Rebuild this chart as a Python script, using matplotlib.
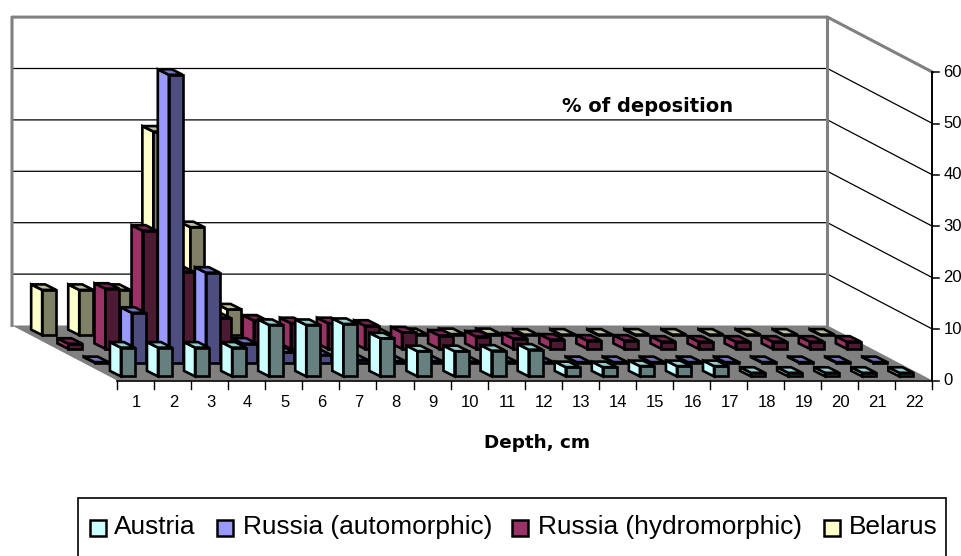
import matplotlib.pyplot as plt
from matplotlib.patches import Polygon, Rectangle

categories = [str(i) for i in range(1, 23)]
value_ticks = [0, 10, 20, 30, 40, 50, 60]
series_names = ["Austria", "Russia (automorphic)", "Russia (hydromorphic)", "Belarus"]

austria = [5.6, 5.6, 5.6, 5.6, 10, 10, 10.2, 7.4, 4.9, 4.9, 5, 5.2, 1.8, 1.8, 2, 2, 2, 0.7, 0.7, 0.7, 0.7, 0.7]
russia_auto = [0.1, 9.7, 56, 17.5, 3.7, 2, 1.5, 0.5, 0.3, 0.3, 0.2, 0.2, 0.1, 0.1, 0.1, 0.1, 0.1, 0.1, 0.1, 0.1, 0.1, 0.1]
russia_hydro = [1, 11.7, 23, 15, 6, 5.5, 5, 5, 4.5, 3.2, 2.6, 2.4, 2, 1.8, 1.6, 1.6, 1.4, 1.4, 1.4, 1.4, 1.4, 1.4]
belarus = [8.8, 8.8, 8.8, 39.6, 21, 5, 2, 1, 0.5, 0.3, 0.2, 0.2, 0.2, 0.1, 0.1, 0.1, 0.1, 0.1, 0.1, 0.1, 0.1, 0.1]

series = [austria, russia_auto, russia_hydro, belarus]
# side, front, top
colors = [("#CCFFFF", "#668080", "#99CCCC"),
          ("#9999FF", "#4D4D80", "#7373BF"),
          ("#993366", "#4D1A33", "#732650"),
          ("#FFFFCC", "#808066", "#BFBF99")]

# oblique projection of the excel 3d box, in pixels
X0, Y0 = 117, 380.5
WIDTH = 815.5
DEPTH_X, DEPTH_Y = 105, 55
PX_PER_UNIT = 5.14
BAR_W = 14
BAR_DX, BAR_DY = 11, 5.5


def project(cat, depth, val):
    # cat in slots from the left, depth 0 front to 1 back, val in %
    x = X0 + cat * WIDTH / len(categories) - depth * DEPTH_X
    y = Y0 - depth * DEPTH_Y - val * PX_PER_UNIT
    return x, y


fig = plt.figure(figsize=(9.62, 5.56), dpi=100)
ax = fig.add_axes([0, 0, 1, 1])
ax.set_xlim(0, 962)
ax.set_ylim(556, 0)
ax.axis("off")

plt.rcParams["font.family"] = ["Liberation Sans"]
LW = 1.9
n = len(categories)
top = value_ticks[-1]

# floor
ax.add_patch(Polygon([project(0, 0, 0), project(n, 0, 0), project(n, 1, 0), project(0, 1, 0)],
                     facecolor="#808080", edgecolor="none", zorder=1))

# gridlines on back and side wall
for v in value_ticks[1:-1]:
    pts = [project(0, 1, v), project(n, 1, v), project(n, 0, v)]
    ax.plot([p[0] for p in pts], [p[1] for p in pts], color="black", lw=0.9, zorder=1)

# wall outline
pts = [project(0, 1, 0), project(0, 1, top), project(n, 1, top), project(n, 0, top)]
ax.plot([p[0] for p in pts], [p[1] for p in pts], color="#808080", lw=2.2, zorder=2)
pts = [project(n, 1, 0), project(n, 1, top)]
ax.plot([p[0] for p in pts], [p[1] for p in pts], color="#808080", lw=2.2, zorder=2)

# value axis
xa, ya = project(n, 0, 0)
xb, yb = project(n, 0, top)
ax.plot([xa, xb], [ya, yb], color="black", lw=1.4, zorder=2)
for v in value_ticks:
    x, y = project(n, 0, v)
    ax.plot([x, x + 7], [y, y], color="black", lw=1.1, zorder=2)
    ax.text(x + 11, y, str(v), ha="left", va="center", fontsize=12)

# category axis
ax.plot([xa - WIDTH, xa], [ya, ya], color="black", lw=1.2, zorder=2)
for i in range(n + 1):
    x, y = project(i, 0, 0)
    ax.plot([x, x], [y, y + 8], color="black", lw=1.0, zorder=2)
for i, c in enumerate(categories):
    x, y = project(i + 0.5, 0, 0)
    ax.text(x + 1, y + 22, c, ha="center", va="center", fontsize=12)

# bars, back row first
z = 3
for s in range(3, -1, -1):
    side, front, roof = colors[s]
    depth = (s + 0.5) / 4
    for i in range(n - 1, -1, -1):
        val = series[s][i]
        cx, cy = project(i + 0.5, depth, 0)
        h = val * PX_PER_UNIT
        xl = cx - BAR_W / 2 + BAR_DX / 2
        xr = xl + BAR_W
        yb = cy + BAR_DY / 2
        front_pts = [(xl, yb), (xr, yb), (xr, yb - h), (xl, yb - h)]
        side_pts = [(xl, yb), (xl, yb - h), (xl - BAR_DX, yb - h - BAR_DY), (xl - BAR_DX, yb - BAR_DY)]
        top_pts = [(xl, yb - h), (xr, yb - h), (xr - BAR_DX, yb - h - BAR_DY), (xl - BAR_DX, yb - h - BAR_DY)]
        for pts, col in [(side_pts, side), (front_pts, front), (top_pts, roof)]:
            ax.add_patch(Polygon(pts, facecolor=col, edgecolor="black", lw=LW,
                                 joinstyle="miter", zorder=z))
        z += 1

# titles
ax.text(648, 106, "% of deposition", ha="center", va="center", fontsize=14,
        fontweight="bold", family="DejaVu Sans")
ax.text(537, 443, "Depth, cm", ha="center", va="center", fontsize=13.2,
        fontweight="bold", family="DejaVu Sans")

# legend, box runs off the bottom of the image
ax.add_patch(Rectangle((78, 498), 868, 70, facecolor="white", edgecolor="black", lw=1.2, zorder=z + 1))
swatch_x = [90, 217, 512, 824]
text_x = [114, 243, 538, 849]
for name, sx, tx, col in zip(series_names, swatch_x, text_x, colors):
    ax.add_patch(Rectangle((sx, 520), 16, 16, facecolor=col[0], edgecolor="black", lw=1.8, zorder=z + 2))
    ax.text(tx, 527, name, ha="left", va="center", fontsize=18.9, zorder=z + 2)

fig.savefig("out.png", dpi=100)
